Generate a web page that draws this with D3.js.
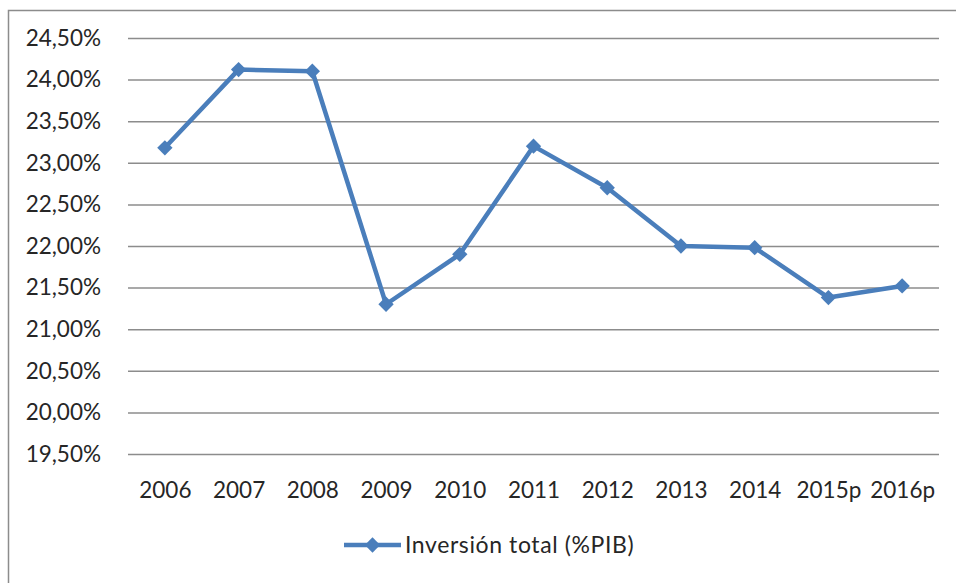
<!DOCTYPE html>
<html>
<head>
<meta charset="utf-8">
<script src="https://cdn.jsdelivr.net/npm/d3@7"></script>
<style>
  body { margin: 0; background: #fff; }
  svg text { font-family: Lato, "Open Sans", sans-serif; fill: #262626; }
</style>
</head>
<body>
<div id="chart"></div>
<script>
// chart data
var years = ["2006", "2007", "2008", "2009", "2010", "2011", "2012", "2013", "2014", "2015p", "2016p"];
var inversion = [23.18, 24.12, 24.10, 21.30, 21.90, 23.20, 22.70, 22.00, 21.98, 21.38, 21.52];
var yTicks = [19.5, 20, 20.5, 21, 21.5, 22, 22.5, 23, 23.5, 24, 24.5];
var seriesName = "Inversión total (%PIB)";

(function() {
  let width = 956, height = 583;
  let left = 128, right = 939, top = 38, bottom = 454;
  let blue = "#4a7ebb";

  let svg = d3.select("#chart").append("svg")
    .attr("width", width)
    .attr("height", height);

  // outer chart frame (only left and top show in the picture)
  svg.append("rect")
    .attr("x", 8.5)
    .attr("y", 10.5)
    .attr("width", width + 20)
    .attr("height", height + 20)
    .attr("fill", "none")
    .attr("stroke", "#8c8c8c")
    .attr("stroke-width", 1.5);

  let locale = d3.formatLocale({ decimal: ",", thousands: ".", grouping: [3], currency: ["", "%"] });
  let fmt = locale.format(".2f");

  let y = d3.scaleLinear()
    .domain([19.5, 24.5])
    .range([bottom, top]);

  let x = d3.scalePoint()
    .domain(years)
    .range([left, right])
    .padding(0.5);

  // gridlines + y labels
  let yAxis = d3.axisLeft(y)
    .tickValues(yTicks)
    .tickSize(-(right - left))
    .tickPadding(27)
    .tickFormat((d) => fmt(d) + "%");

  let gy = svg.append("g")
    .attr("transform", "translate(" + left + ",0)")
    .call(yAxis);
  gy.select(".domain").remove();
  gy.selectAll(".tick line")
    .attr("stroke", "#8c8c8c")
    .attr("stroke-width", 1.5);
  gy.selectAll(".tick text")
    .attr("font-size", 22.5)
    .attr("fill", "#262626")
    .style("font-family", "Lato, sans-serif");

  // x labels
  let xAxis = d3.axisBottom(x)
    .tickSize(0)
    .tickPadding(28);

  let gx = svg.append("g")
    .attr("transform", "translate(0," + bottom + ")")
    .call(xAxis);
  gx.select(".domain").remove();
  gx.selectAll(".tick text")
    .attr("font-size", 22.5)
    .attr("fill", "#262626")
    .style("font-family", "Lato, sans-serif");

  let data = years.map((d, i) => ({ year: d, value: inversion[i] }));

  let line = d3.line()
    .x((d) => x(d.year))
    .y((d) => y(d.value));

  svg.append("path")
    .datum(data)
    .attr("fill", "none")
    .attr("stroke", blue)
    .attr("stroke-width", 4.5)
    .attr("stroke-linejoin", "round")
    .attr("d", line);

  let diamond = d3.symbol().type(d3.symbolDiamond2).size(150);

  svg.selectAll(".marker")
    .data(data)
    .enter().append("path")
    .attr("class", "marker")
    .attr("d", diamond)
    .attr("fill", blue)
    .attr("transform", (d) => "translate(" + x(d.year) + "," + y(d.value) + ")");

  // legend
  let lg = svg.append("g").attr("transform", "translate(344,545)");
  lg.append("line")
    .attr("x1", 0).attr("x2", 57)
    .attr("stroke", blue)
    .attr("stroke-width", 4.5);
  lg.append("path")
    .attr("d", diamond)
    .attr("fill", blue)
    .attr("transform", "translate(28.5,0)");
  lg.append("text")
    .attr("x", 61)
    .attr("dy", "0.35em")
    .attr("font-size", 23)
    .attr("letter-spacing", 0.6)
    .text(seriesName);
})();
</script>
</body>
</html>
